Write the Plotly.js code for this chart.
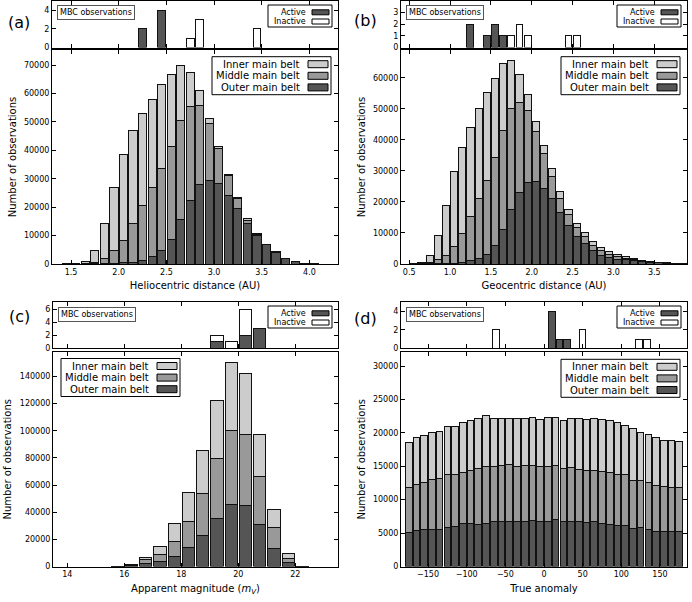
<!DOCTYPE html>
<html>
<head>
<meta charset="utf-8">
<script src="https://cdn.plot.ly/plotly-3.0.1.min.js"></script>
<style>body{margin:0;background:#fff}#chart{width:692px;height:602px}</style>
</head>
<body>
<div id="chart"></div>
<script>
// (a) heliocentric distance (AU), bin centres and counts per belt
let helioBins   = [1.45, 1.55, 1.65, 1.75, 1.85, 1.95, 2.05, 2.15, 2.25, 2.35, 2.45, 2.55, 2.65, 2.75, 2.85, 2.95, 3.05, 3.15, 3.25, 3.35, 3.45, 3.55, 3.65, 3.75, 3.85, 3.95, 4.05];
let helioOuter  = [0, 0, 0, 100, 100, 300, 400, 500, 1300, 2500, 4800, 8500, 15800, 22500, 28000, 29300, 28200, 24000, 19600, 14400, 10100, 6700, 4200, 1900, 800, 300, 100];
let helioMiddle = [0, 50, 100, 600, 1900, 4300, 7900, 13800, 19200, 24500, 28700, 32700, 34700, 33000, 27700, 20200, 12500, 7100, 3600, 800, 400, 200, 100, 100, 0, 0, 0];
let helioInner  = [100, 250, 900, 4100, 12200, 22400, 30200, 32700, 32300, 30800, 29700, 25600, 19300, 12000, 5300, 1700, 500, 400, 200, 800, 300, 100, 0, 0, 0, 0, 0];
let helioActiveX = [2.25, 2.45], helioActive = [2, 4];
let helioInactiveX = [2.75, 2.85, 3.45], helioInactive = [1, 3, 2];

// (b) geocentric distance (AU)
let geoBins   = [0.55, 0.65, 0.75, 0.85, 0.95, 1.05, 1.15, 1.25, 1.35, 1.45, 1.55, 1.65, 1.75, 1.85, 1.95, 2.05, 2.15, 2.25, 2.35, 2.45, 2.55, 2.65, 2.75, 2.85, 2.95, 3.05, 3.15, 3.25, 3.35, 3.45, 3.55, 3.65, 3.75, 3.85];
let geoOuter  = [0, 50, 100, 200, 300, 300, 500, 1000, 1800, 3000, 6000, 11000, 17600, 23000, 26300, 26500, 24500, 21000, 16600, 12400, 8800, 6500, 4400, 2800, 2000, 1500, 1300, 1000, 700, 500, 350, 200, 100, 50];
let geoMiddle = [50, 250, 500, 1100, 2500, 5400, 9200, 14200, 19400, 24000, 28200, 32200, 32400, 29200, 23100, 16300, 11000, 7100, 4400, 3600, 3000, 2400, 1600, 1400, 1200, 900, 600, 400, 300, 200, 150, 100, 50, 30];
let geoInner  = [50, 300, 2300, 7900, 16200, 24000, 28000, 28800, 28800, 28200, 25700, 21300, 15500, 9000, 5100, 3200, 2700, 2600, 2300, 1600, 1300, 1200, 1300, 1000, 700, 600, 500, 300, 200, 200, 100, 100, 50, 20];
let geoActiveX = [1.25, 1.45, 1.55, 1.65], geoActive = [2, 1, 2, 1];
let geoInactiveX = [1.75, 1.85, 1.95, 2.45, 2.55], geoInactive = [1, 2, 1, 1, 1];

// (c) apparent magnitude
let magBins   = [15.75, 16.25, 16.75, 17.25, 17.75, 18.25, 18.75, 19.25, 19.75, 20.25, 20.75, 21.25, 21.75, 22.25];
let magOuter  = [150, 900, 2500, 3800, 7700, 13800, 23000, 35200, 45700, 45000, 31000, 13200, 2700, 100];
let magMiddle = [100, 400, 2500, 5400, 11000, 19600, 30500, 44300, 54800, 52500, 35500, 15600, 3100, 100];
let magInner  = [50, 200, 2000, 5800, 12800, 21400, 31900, 43000, 49500, 44500, 30500, 13400, 3500, 100];
let magActiveX = [19.25, 20.25, 20.75], magActive = [1, 2, 3];
let magInactiveX = [19.25, 19.75, 20.25], magInactive = [1, 1, 4];

// (d) true anomaly (deg)
let anomBins   = [-175, -165, -155, -145, -135, -125, -115, -105, -95, -85, -75, -65, -55, -45, -35, -25, -15, -5, 5, 15, 25, 35, 45, 55, 65, 75, 85, 95, 105, 115, 125, 135, 145, 155, 165, 175];
let anomOuter  = [5100, 5400, 5600, 5600, 5600, 5900, 6000, 6400, 6500, 6300, 6500, 6700, 6800, 6800, 6700, 6800, 6900, 6700, 6800, 7000, 6800, 6700, 6700, 6600, 6700, 6500, 6300, 6100, 6100, 5700, 5800, 5500, 5300, 5200, 5200, 5200];
let anomMiddle = [6700, 6900, 7000, 7400, 7500, 7800, 7700, 7600, 7900, 8300, 8400, 8300, 8300, 8400, 8300, 8300, 8200, 8200, 8200, 8100, 7900, 8100, 7800, 7800, 7700, 7700, 7800, 7700, 7600, 7200, 7100, 7000, 6800, 6700, 6600, 6600];
let anomInner  = [6800, 7000, 7000, 7000, 7100, 7300, 7300, 7500, 7400, 7500, 7700, 7100, 7100, 7000, 7100, 7000, 7200, 7100, 7300, 7200, 7100, 7400, 7700, 7600, 7700, 7800, 7700, 7700, 7400, 7700, 7200, 7300, 7200, 6900, 7000, 6900];
let anomActiveX = [10, 20, 30], anomActive = [4, 1, 1];
let anomInactiveX = [-62, 50, 123, 133], anomInactive = [2, 2, 1, 1];

let beltNames = ['Inner main belt', 'Middle main belt', 'Outer main belt'];
let innerColor = '#cccccc', middleColor = '#999999', outerColor = '#555555';
let edge = {color: '#111', width: 1};

const W = 692, H = 602;
const fx = p => p / W;
const fy = p => 1 - p / H;

function beltTraces(x, inner, middle, outer, xa, ya, w) {
  return [[outer, outerColor], [middle, middleColor], [inner, innerColor]].map(s => ({
    type: 'bar', x: x, y: s[0], width: w, xaxis: xa, yaxis: ya,
    marker: {color: s[1], line: edge}, showlegend: false, hoverinfo: 'skip'
  }));
}
function mbcTraces(ax, ay, ix, iy, xa, ya, w) {
  return [
    {type: 'bar', x: ax, y: ay, width: w, xaxis: xa, yaxis: ya, marker: {color: outerColor, line: edge}, showlegend: false, hoverinfo: 'skip'},
    {type: 'bar', x: ix, y: iy, width: w, xaxis: xa, yaxis: ya, marker: {color: '#ffffff', line: edge}, showlegend: false, hoverinfo: 'skip'}
  ];
}

let data = [].concat(
  beltTraces(helioBins, helioInner, helioMiddle, helioOuter, 'x', 'y', 0.085),
  mbcTraces(helioActiveX, helioActive, helioInactiveX, helioInactive, 'x2', 'y2', 0.08),
  beltTraces(geoBins, geoInner, geoMiddle, geoOuter, 'x3', 'y3', 0.088),
  mbcTraces(geoActiveX, geoActive, geoInactiveX, geoInactive, 'x4', 'y4', 0.085),
  beltTraces(magBins, magInner, magMiddle, magOuter, 'x5', 'y5', 0.43),
  mbcTraces(magActiveX, magActive, magInactiveX, magInactive, 'x6', 'y6', 0.43),
  beltTraces(anomBins, anomInner, anomMiddle, anomOuter, 'x7', 'y7', 8.6),
  mbcTraces(anomActiveX, anomActive, anomInactiveX, anomInactive, 'x8', 'y8', 8.6)
);

function ax(extra) {
  return Object.assign({
    showgrid: false, zeroline: false, showline: true, linecolor: '#000', linewidth: 1,
    mirror: 'ticks', ticks: 'inside', ticklen: 4, tickcolor: '#000', tickwidth: 1,
    tickfont: {family: 'DejaVu Sans', size: 8, color: '#000'}, fixedrange: true
  }, extra);
}
function ttl(t, s) { return {text: t, font: {family: 'DejaVu Sans', size: 10, color: '#000'}, standoff: s}; }

// panel pixel boxes: left, right, top-panel top/bottom, main top/bottom
let P = {
  a: {l: 52, r: 338, tt: 1, tb: 47.5, mt: 50, mb: 264},
  b: {l: 401, r: 687, tt: 1, tb: 47.5, mt: 50, mb: 264},
  c: {l: 53, r: 338, tt: 302, tb: 348.3, mt: 352, mb: 566.5},
  d: {l: 401, r: 687, tt: 302, tb: 348.3, mt: 352, mb: 566.5}
};
function xd(p) { return [fx(p.l), fx(p.r)]; }
function ymd(p) { return [fy(p.mb), fy(p.mt)]; }
function ytd(p) { return [fy(p.tb), fy(p.tt)]; }

let layout = {
  width: W, height: H, margin: {l: 0, r: 0, t: 0, b: 0},
  paper_bgcolor: '#fff', plot_bgcolor: '#fff', barmode: 'stack',
  font: {family: 'DejaVu Sans', color: '#000'},
  xaxis:  ax({domain: xd(P.a), anchor: 'y', range: [1.3, 4.3], dtick: 0.5, tick0: 0, tickformat: '.1f', title: ttl('Heliocentric distance (AU)', 6)}),
  yaxis:  ax({domain: ymd(P.a), anchor: 'x', range: [0, 75300], dtick: 10000, tickformat: 'd', title: ttl('Number of observations', 5)}),
  xaxis2: ax({domain: xd(P.a), anchor: 'y2', range: [1.3, 4.3], dtick: 0.5, tick0: 0, showticklabels: false}),
  yaxis2: ax({domain: ytd(P.a), anchor: 'x2', range: [0, 5], tickvals: [0, 2, 4]}),
  xaxis3: ax({domain: xd(P.b), anchor: 'y3', range: [0.4, 3.9], dtick: 0.5, tick0: 0, tickformat: '.1f', title: ttl('Geocentric distance (AU)', 6)}),
  yaxis3: ax({domain: ymd(P.b), anchor: 'x3', range: [0, 69000], dtick: 10000, tickformat: 'd', title: ttl('Number of observations', 5)}),
  xaxis4: ax({domain: xd(P.b), anchor: 'y4', range: [0.4, 3.9], dtick: 0.5, tick0: 0, showticklabels: false}),
  yaxis4: ax({domain: ytd(P.b), anchor: 'x4', range: [0, 3.98], tickvals: [0, 1, 2, 3]}),
  xaxis5: ax({domain: xd(P.c), anchor: 'y5', range: [13.5, 23.5], dtick: 2, tick0: 0, title: ttl('Apparent magnitude (<i>m</i><sub><i>V</i></sub>)', 6)}),
  yaxis5: ax({domain: ymd(P.c), anchor: 'x5', range: [0, 158000], dtick: 20000, tickformat: 'd', title: ttl('Number of observations', 6)}),
  xaxis6: ax({domain: xd(P.c), anchor: 'y6', range: [13.5, 23.5], dtick: 2, tick0: 0, showticklabels: false}),
  yaxis6: ax({domain: ytd(P.c), anchor: 'x6', range: [0, 7.1], tickvals: [0, 2, 4, 6]}),
  xaxis7: ax({domain: xd(P.d), anchor: 'y7', range: [-185, 185], dtick: 50, tick0: 0, title: ttl('True anomaly', 6)}),
  yaxis7: ax({domain: ymd(P.d), anchor: 'x7', range: [0, 32100], dtick: 5000, tickformat: 'd', title: ttl('Number of observations', 5)}),
  xaxis8: ax({domain: xd(P.d), anchor: 'y8', range: [-185, 185], dtick: 50, tick0: 0, showticklabels: false}),
  yaxis8: ax({domain: ytd(P.d), anchor: 'x8', range: [0, 5.05], tickvals: [0, 2, 4]}),
  shapes: [],
  annotations: []
};

function rect(x0, x1, y0, y1, fill) {
  layout.shapes.push({type: 'rect', xref: 'paper', yref: 'paper', x0: fx(x0), x1: fx(x1), y0: fy(y1), y1: fy(y0),
    fillcolor: fill, line: {color: '#000', width: 1}, layer: 'above'});
}
function label(x, y, text, size, anchor, extra) {
  layout.annotations.push(Object.assign({xref: 'paper', yref: 'paper', x: fx(x), y: fy(y), text: text, showarrow: false,
    xanchor: anchor, yanchor: 'middle', font: {family: 'DejaVu Sans', size: size, color: '#000'}}, extra || {}));
}

// belt legend box (swatch on the right side, as in the figure)
function beltLegend(L, T) {
  rect(L, L + 119, T, T + 38, '#fff');
  let cols = [innerColor, middleColor, outerColor];
  for (let k = 0; k < 3; k++) {
    let y = T + 7.5 + 11.6 * k;
    rect(L + 96, L + 116, y - 3.5, y + 3.5, cols[k]);
    label(L + 90, y, beltNames[k], 10, 'right');
  }
}
function mbcLegend(p) {
  let L = p.r - 70, T = p.tt + 4;
  rect(L, L + 64, T, T + 22, '#fff');
  rect(L + 44, L + 61, T + 7.3 - 2.5, T + 7.3 + 2.5, outerColor);
  rect(L + 44, L + 61, T + 16.5 - 2.5, T + 16.5 + 2.5, '#fff');
  label(L + 40, T + 7.3, 'Active', 8, 'right');
  label(L + 40, T + 16.5, 'Inactive', 8, 'right');
  label(p.l + 5, p.tt + 12, 'MBC observations', 8, 'left',
    {bordercolor: '#555', borderwidth: 1, borderpad: 2, bgcolor: '#fff'});
}

beltLegend(P.a.r - 126, P.a.mt + 6.7);
beltLegend(P.b.r - 126, P.b.mt + 6.7);
beltLegend(P.c.l + 8, P.c.mt + 6.5);
beltLegend(P.d.r - 126, P.d.mt + 7.3);
['a', 'b', 'c', 'd'].forEach(k => mbcLegend(P[k]));

label(19, 22, '(a)', 16, 'center');
label(365, 21, '(b)', 16, 'center');
label(19, 317, '(c)', 16, 'center');
label(365, 318, '(d)', 16, 'center');

Plotly.newPlot('chart', data, layout, {staticPlot: true});
</script>
</body>
</html>
